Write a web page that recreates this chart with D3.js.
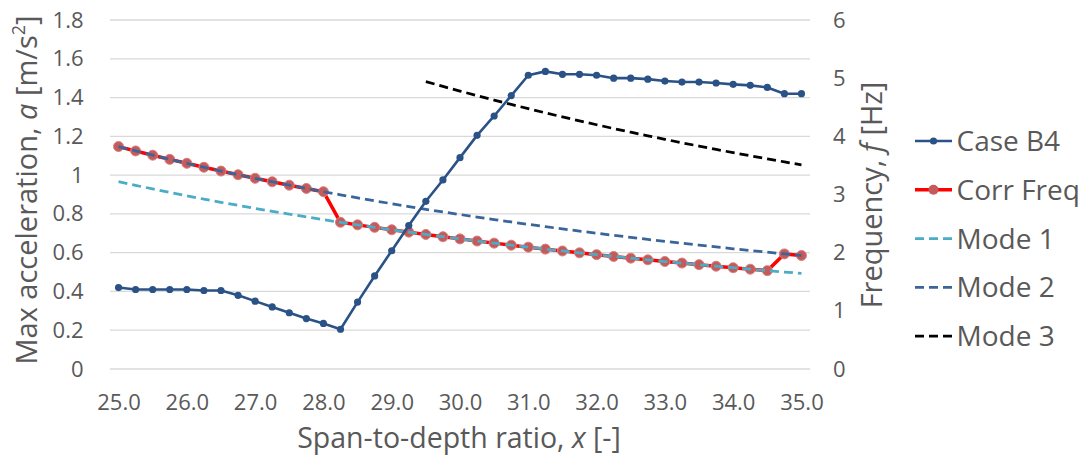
<!DOCTYPE html>
<html><head><meta charset="utf-8">
<script src="https://cdn.jsdelivr.net/npm/d3@7"></script>
<style>body{margin:0;background:#fff;} text{font-family:"Open Sans",sans-serif;fill:#595959;}</style>
</head><body><svg id="c" width="1087" height="457"></svg>
<script>
const xLabels = ["25.0","25.25","25.5","25.75","26.0","26.25","26.5","26.75","27.0","27.25","27.5","27.75","28.0","28.25","28.5","28.75","29.0","29.25","29.5","29.75","30.0","30.25","30.5","30.75","31.0","31.25","31.5","31.75","32.0","32.25","32.5","32.75","33.0","33.25","33.5","33.75","34.0","34.25","34.5","34.75","35.0"];
const xTickLabels = ["25.0","26.0","27.0","28.0","29.0","30.0","31.0","32.0","33.0","34.0","35.0"];
const leftTicks = [0,0.2,0.4,0.6,0.8,1,1.2,1.4,1.6,1.8];
const rightTicks = [0,1,2,3,4,5,6];
const caseB4 = [0.42,0.41,0.41,0.41,0.41,0.405,0.405,0.38,0.35,0.32,0.29,0.26,0.235,0.205,0.345,0.48,0.61,0.74,0.865,0.975,1.09,1.205,1.305,1.41,1.515,1.535,1.52,1.52,1.515,1.50,1.50,1.495,1.485,1.48,1.48,1.475,1.468,1.463,1.452,1.42,1.42];
const mode1 = [3.221,3.157,3.096,3.036,2.978,2.921,2.866,2.813,2.761,2.711,2.662,2.614,2.568,2.522,2.478,2.435,2.394,2.353,2.313,2.274,2.237,2.200,2.164,2.129,2.095,2.061,2.029,1.997,1.966,1.935,1.906,1.877,1.848,1.821,1.794,1.767,1.741,1.716,1.691,1.667,1.643];
const mode2 = [3.824,3.749,3.676,3.604,3.536,3.468,3.403,3.340,3.278,3.219,3.160,3.104,3.048,2.995,2.942,2.891,2.842,2.793,2.746,2.700,2.656,2.612,2.569,2.528,2.487,2.447,2.409,2.371,2.334,2.298,2.263,2.228,2.195,2.162,2.130,2.098,2.067,2.037,2.008,1.979,1.951];
const mode3 = [null,null,null,null,null,null,null,null,null,null,null,null,null,null,null,null,null,null,4.941,4.858,4.778,4.699,4.622,4.548,4.475,4.403,4.334,4.266,4.199,4.134,4.071,4.009,3.949,3.889,3.832,3.775,3.720,3.666,3.613,3.561,3.510];
const corrFreq = [3.824,3.749,3.676,3.604,3.536,3.468,3.403,3.340,3.278,3.219,3.160,3.104,3.048,2.522,2.478,2.435,2.394,2.353,2.313,2.274,2.237,2.200,2.164,2.129,2.095,2.061,2.029,1.997,1.966,1.935,1.906,1.877,1.848,1.821,1.794,1.767,1.741,1.716,1.691,1.979,1.951];

const svg = d3.select("#c");
const L=110,R=810,T=20,B=369;
const x = d3.scalePoint().domain(xLabels).range([L,R]).padding(0.5);
const yL = d3.scaleLinear().domain([0,1.8]).range([B,T]);
const yR = d3.scaleLinear().domain([0,6]).range([B,T]);

// gridlines
svg.append("g").selectAll("line").data(leftTicks).join("line")
  .attr("x1",L).attr("x2",R).attr("y1",d=>yL(d)).attr("y2",d=>yL(d))
  .attr("stroke","#d9d9d9").attr("stroke-width",1.3);

// axes
const ax = svg.append("g").attr("transform",`translate(0,${B})`)
  .call(d3.axisBottom(x).tickValues(xTickLabels).tickSize(0).tickPadding(25));
ax.select(".domain").remove();
ax.selectAll("text").attr("font-size",22).style("fill","#595959").attr("font-family","Open Sans");

const al = svg.append("g").attr("transform",`translate(83.5,0)`)
  .call(d3.axisLeft(yL).tickValues(leftTicks).tickSize(0).tickPadding(0).tickFormat(d=>String(+d.toFixed(1))));
al.select(".domain").remove();
al.selectAll("text").attr("font-size",22).style("fill","#595959").attr("font-family","Open Sans");

const ar = svg.append("g").attr("transform",`translate(833,0)`)
  .call(d3.axisRight(yR).tickValues(rightTicks).tickSize(0).tickPadding(0).tickFormat(d3.format("d")));
ar.select(".domain").remove();
ar.selectAll("text").attr("font-size",22).style("fill","#595959").attr("font-family","Open Sans");

// axis titles
svg.append("text").attr("x",459).attr("y",448).attr("text-anchor","middle").attr("font-size",28.5)
  .html('Span-to-depth ratio, <tspan font-style="italic">x</tspan> [-]');
svg.append("text").attr("transform","translate(37,190) rotate(-90)").attr("text-anchor","middle").attr("font-size",29)
  .html('Max acceleration, <tspan font-style="italic">a</tspan> [m/s<tspan baseline-shift="super" font-size="18">2</tspan>]');
svg.append("text").attr("transform","translate(882,195) rotate(-90)").attr("text-anchor","middle").attr("font-size",29)
  .html('Frequency, <tspan font-style="italic">f</tspan> [Hz]');

const idx = d3.range(xLabels.length);
const lineR = arr => d3.line().defined(i=>arr[i]!=null).x(i=>x(xLabels[i])).y(i=>yR(arr[i]))(idx);
const lineL = arr => d3.line().x(i=>x(xLabels[i])).y(i=>yL(arr[i]))(idx);

// Corr Freq
svg.append("path").attr("d",lineR(corrFreq)).attr("fill","none").attr("stroke","#ff0000").attr("stroke-width",3.5).attr("stroke-linejoin","round");
svg.append("g").selectAll("circle").data(idx).join("circle")
  .attr("cx",i=>x(xLabels[i])).attr("cy",i=>yR(corrFreq[i])).attr("r",5)
  .attr("fill","#c55a5a").attr("stroke","#d98080").attr("stroke-width",1);
// Modes
svg.append("path").attr("d",lineR(mode1)).attr("fill","none").attr("stroke","#4bacc6").attr("stroke-width",2.75).attr("stroke-dasharray","9,5");
svg.append("path").attr("d",lineR(mode2)).attr("fill","none").attr("stroke","#3a659b").attr("stroke-width",2.75).attr("stroke-dasharray","9,5");
svg.append("path").attr("d",lineR(mode3)).attr("fill","none").attr("stroke","#000").attr("stroke-width",2.75).attr("stroke-dasharray","9,5");
// Case B4
svg.append("path").attr("d",lineL(caseB4)).attr("fill","none").attr("stroke","#2a5286").attr("stroke-width",2.6).attr("stroke-linejoin","round");
svg.append("g").selectAll("circle").data(idx).join("circle")
  .attr("cx",i=>x(xLabels[i])).attr("cy",i=>yL(caseB4[i])).attr("r",3.6).attr("fill","#2a5286");

// legend
const leg = [
 {n:"Case B4",c:"#2a5286",w:2.6,dash:null,m:{r:3.6,f:"#2a5286"}},
 {n:"Corr Freq",c:"#ff0000",w:3.5,dash:null,m:{r:5,f:"#c55a5a"}},
 {n:"Mode 1",c:"#4bacc6",w:2.75,dash:"9,5"},
 {n:"Mode 2",c:"#3a659b",w:2.75,dash:"9,5"},
 {n:"Mode 3",c:"#000",w:2.75,dash:"9,5"}];
const lg = svg.append("g");
leg.forEach((d,k)=>{
  const yy = 141 + k*48.8;
  lg.append("line").attr("x1",915).attr("x2",952).attr("y1",yy).attr("y2",yy).attr("stroke",d.c).attr("stroke-width",d.w).attr("stroke-dasharray",d.dash);
  if(d.m) lg.append("circle").attr("cx",933.5).attr("cy",yy).attr("r",d.m.r).attr("fill",d.m.f);
  lg.append("text").attr("x",956.5).attr("y",yy+10).attr("font-size",28).text(d.n);
});
</script></body></html>
